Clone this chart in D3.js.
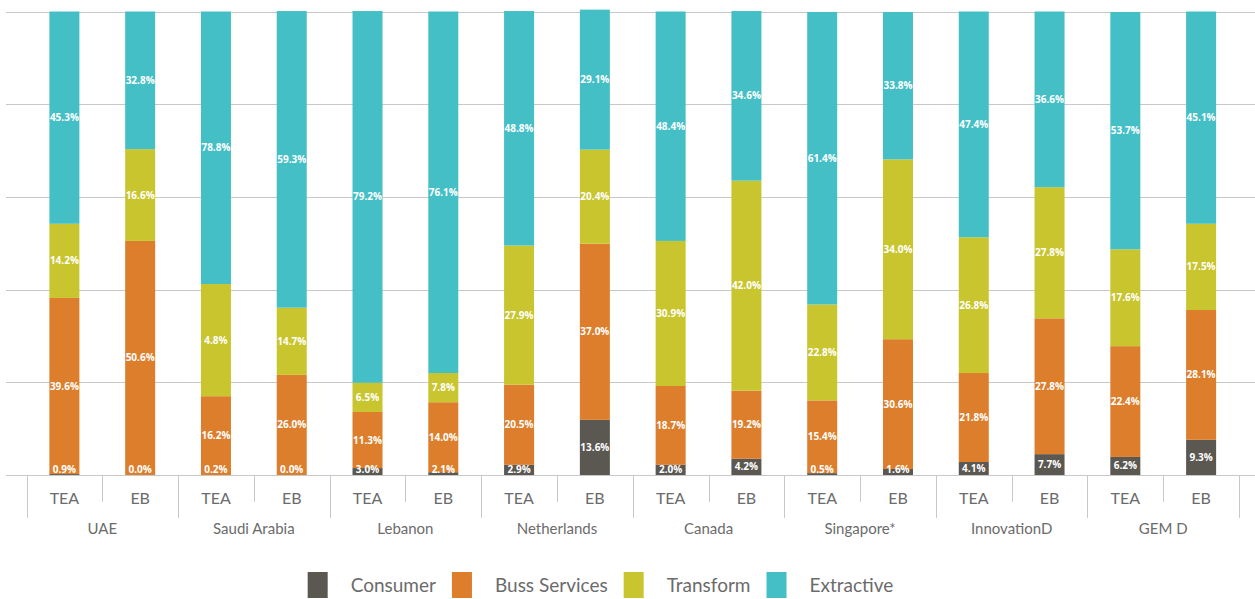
<!DOCTYPE html>
<html>
<head>
<meta charset="utf-8">
<script src="https://cdn.jsdelivr.net/npm/d3@7"></script>
<style>
  body { margin: 0; background: #fff; }
  svg { display: block; }
</style>
</head>
<body>
<svg id="chart" width="1255" height="599"></svg>
<script>

// DATA

var countries = ["UAE", "Saudi Arabia", "Lebanon", "Netherlands", "Canada", "Singapore*", "InnovationD", "GEM D"];
var phases = ["TEA", "EB"];
var series_names = ["Consumer", "Buss Services", "Transform", "Extractive"];
var series_colors = ["#5b5751", "#dc7e2b", "#c9c52e", "#45bfc6"];

// printed labels (one per bar, order: UAE TEA, UAE EB, Saudi TEA, ...)
var consumer_label   = [0.9, 0.0, 0.2, 0.0, 3.0, 2.1, 2.9, 13.6, 2.0, 4.2, 0.5, 1.6, 4.1, 7.7, 6.2, 9.3];
var buss_label       = [39.6, 50.6, 16.2, 26.0, 11.3, 14.0, 20.5, 37.0, 18.7, 19.2, 15.4, 30.6, 21.8, 27.8, 22.4, 28.1];
var transform_label  = [14.2, 16.6, 4.8, 14.7, 6.5, 7.8, 27.9, 20.4, 30.9, 42.0, 22.8, 34.0, 26.8, 27.8, 17.6, 17.5];
var extractive_label = [45.3, 32.8, 78.8, 59.3, 79.2, 76.1, 48.8, 29.1, 48.4, 34.6, 61.4, 33.8, 47.4, 36.6, 53.7, 45.1];

// segment sizes as drawn in the picture (%), they do not always match the printed labels
var consumer_bar   = [0.2, 0.0, 0.0, 0.0, 1.5, 0.6, 2.2, 11.9, 2.2, 3.5, 0.4, 1.3, 2.8, 4.5, 3.9, 7.6];
var buss_bar       = [38.0, 50.5, 17.0, 21.6, 12.1, 15.1, 17.3, 38.0, 17.0, 14.7, 15.7, 28.0, 19.2, 29.3, 23.9, 28.0];
var transform_bar  = [16.0, 19.8, 24.2, 14.5, 6.3, 6.3, 30.0, 20.3, 31.3, 45.3, 20.7, 38.8, 29.3, 28.3, 20.9, 18.6];
var extractive_bar = [45.8, 29.7, 58.8, 64.0, 80.2, 78.0, 50.6, 30.2, 49.5, 36.6, 63.1, 31.8, 48.7, 37.9, 51.2, 45.8];

var y_ticks = [0, 20, 40, 60, 80, 100];

// build rows for the stack
var bar_values = [consumer_bar, buss_bar, transform_bar, extractive_bar];
var label_values = [consumer_label, buss_label, transform_label, extractive_label];

var rows = [];
countries.forEach(function(c, ci){
  phases.forEach(function(p, pi){
    var i = ci * phases.length + pi;
    var row = { key: c + "|" + p, country: c, phase: p, idx: i };
    series_names.forEach(function(s, si){ row[s] = bar_values[si][i]; });
    rows.push(row);
  });
});

// RENDERING

var svg = d3.select("#chart");
var axis_font = "Lato, 'Open Sans', sans-serif";

var x = d3.scaleBand()
  .domain(rows.map(function(d){ return d.key; }))
  .range([26.5, 1239])
  .paddingInner(0)
  .paddingOuter(0);

var x_group = d3.scaleBand()
  .domain(countries)
  .range([26.5, 1239]);

var y = d3.scaleLinear()
  .domain([0, 100])
  .range([475, 11.5]);

var bar_w = 30;

// gridlines
svg.append("g")
  .selectAll("line")
  .data(y_ticks)
  .join("line")
    .attr("x1", 6)
    .attr("x2", 1255)
    .attr("y1", function(d){ return Math.round(y(d)) + 0.5; })
    .attr("y2", function(d){ return Math.round(y(d)) + 0.5; })
    .attr("stroke", "#c8c8c8")
    .attr("stroke-width", 1);

var stack = d3.stack().keys(series_names);
var stacked = stack(rows);

var layers = svg.append("g")
  .selectAll("g")
  .data(stacked)
  .join("g")
    .attr("fill", function(d, i){ return series_colors[i]; });

layers.selectAll("rect")
  .data(function(d){ return d; })
  .join("rect")
    .attr("x", function(d){ return x(d.data.key) + x.bandwidth() / 2 - bar_w / 2; })
    .attr("width", bar_w)
    .attr("y", function(d){ return y(d[1]); })
    .attr("height", function(d){ return Math.max(0, y(d[0]) - y(d[1])); });

// value labels
var label_g = svg.append("g")
  .attr("font-family", "'Open Sans', sans-serif")
  .attr("font-weight", 700)
  .attr("font-size", "10px")
  .attr("fill", "#ffffff")
  .attr("text-anchor", "middle");

stacked.forEach(function(layer, si){
  label_g.selectAll(null)
    .data(layer)
    .join("text")
      .attr("x", function(d){ return x(d.data.key) + x.bandwidth() / 2; })
      .attr("y", function(d){
        var mid = (y(d[0]) + y(d[1])) / 2;
        return Math.min(mid, y(0) - 6);
      })
      .attr("dy", "0.35em")
      .text(function(d){ return label_values[si][d.data.idx].toFixed(1) + "%"; });
});

// x axis: phase labels, separators and country labels
var axis_g = svg.append("g")
  .attr("font-family", axis_font)
  .attr("fill", "#6b6b6b")
  .attr("text-anchor", "middle");

axis_g.selectAll("text.phase")
  .data(rows)
  .join("text")
    .attr("class", "phase")
    .attr("x", function(d){ return x(d.key) + x.bandwidth() / 2; })
    .attr("y", 498)
    .attr("dy", "0.35em")
    .attr("font-size", "16px")
    .text(function(d){ return d.phase; });

// short separators between TEA and EB
axis_g.selectAll("line.short")
  .data(countries)
  .join("line")
    .attr("class", "short")
    .attr("x1", function(d){ return Math.round(x_group(d) + x_group.bandwidth() / 2) + 0.5; })
    .attr("x2", function(d){ return Math.round(x_group(d) + x_group.bandwidth() / 2) + 0.5; })
    .attr("y1", 475)
    .attr("y2", 502)
    .attr("stroke", "#c8c8c8");

// long separators between groups
var group_edges = countries.map(function(c){ return x_group(c); }).concat([x_group.range()[1]]);
axis_g.selectAll("line.long")
  .data(group_edges)
  .join("line")
    .attr("class", "long")
    .attr("x1", function(d){ return Math.round(d) + 0.5; })
    .attr("x2", function(d){ return Math.round(d) + 0.5; })
    .attr("y1", 475)
    .attr("y2", 518)
    .attr("stroke", "#c8c8c8");

axis_g.selectAll("text.country")
  .data(countries)
  .join("text")
    .attr("class", "country")
    .attr("x", function(d){ return x_group(d) + x_group.bandwidth() / 2; })
    .attr("y", 529)
    .attr("dy", "0.35em")
    .attr("font-size", "15px")
    .text(function(d){ return d; });

// LEGEND

var legend = svg.append("g")
  .attr("font-family", axis_font)
  .attr("font-size", "19px")
  .attr("fill", "#6b6b6b");

var sw = 20, sh = 26, gap_text = 23, gap_item = 16;
var cursor = 0;
var items = legend.selectAll("g")
  .data(series_names)
  .join("g");

items.append("rect")
  .attr("width", sw)
  .attr("height", sh)
  .attr("y", 572)
  .attr("fill", function(d, i){ return series_colors[i]; });

items.append("text")
  .attr("x", sw + gap_text)
  .attr("y", 585)
  .attr("dy", "0.35em")
  .text(function(d){ return d; });

items.each(function(){
  var g = d3.select(this);
  g.attr("transform", "translate(" + cursor + ",0)");
  var tw = g.select("text").node().getComputedTextLength();
  cursor += sw + gap_text + tw + gap_item;
});
var legend_w = cursor - gap_item;
legend.attr("transform", "translate(" + (600.5 - legend_w / 2) + ",0)");

</script>
</body>
</html>
